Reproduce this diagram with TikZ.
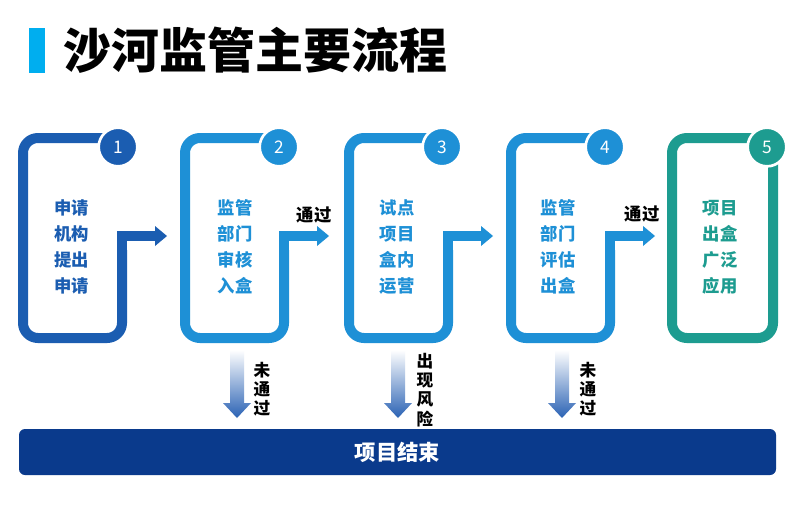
\documentclass[tikz,border=0pt]{standalone}
\usepackage{fontspec}
\setmainfont{Noto Sans CJK SC}
\definecolor{cone}{HTML}{1B5DB1}
\definecolor{cmid}{HTML}{1E90D6}
\definecolor{cfive}{HTML}{1D9C90}
\definecolor{cbar}{HTML}{0A3A8C}
\definecolor{ctitle}{HTML}{00AEEF}
\definecolor{carrow}{HTML}{2A62B4}
\begin{document}
\begin{tikzpicture}[x=0.75pt,y=-0.75pt,
  boxline/.style={line width=7.5pt, rounded corners=11.25pt},
  stemline/.style={line width=7.5pt},
  numcircle/.style={circle, draw=white, line width=2pt, minimum size=29pt, inner sep=0pt, text=white, font=\fontsize{13}{13}\selectfont},
  boxtext/.style={align=center, font=\bfseries\fontsize{13}{19.5}\selectfont},
  passlbl/.style={font=\bfseries\fontsize{13}{13}\selectfont, text=black},
  vlbl/.style={align=center, text=black, font=\bfseries\fontsize{12.5}{14.4}\selectfont},
  downarrow/.style={top color=white, bottom color=carrow}
]
\useasboundingbox (0,0) rectangle (800,521);
\fill[white] (0,0) rectangle (800,521);

% title
\fill[ctitle] (29,28) rectangle (45,73);
\node[anchor=west, font=\bfseries\fontsize{36}{36}\selectfont, inner sep=0pt] (title) at (63,50) {沙河监管主要流程};

% box 1
\begin{scope}[shift={(18,0)}]
  \draw[boxline, cone] (95,138) -- (5,138) -- (5,338) -- (104,338) -- (104,250);
  \draw[stemline, cone] (104,256) -- (104,236) -- (139,236);
  \fill[cone] (137,226) -- (149,236) -- (137,246) -- cycle;
  \node[numcircle, fill=cone] (n1) at (100,147) {1};
  \node[boxtext, text=cone] (t1) at (54,247) {申请\\机构\\提出\\申请};
\end{scope}

% box 2
\begin{scope}[shift={(180,0)}]
  \draw[boxline, cmid] (95,138) -- (5,138) -- (5,338) -- (104,338) -- (104,250);
  \draw[stemline, cmid] (104,256) -- (104,236) -- (139,236);
  \fill[cmid] (137,226) -- (149,236) -- (137,246) -- cycle;
  \node[numcircle, fill=cmid] (n2) at (99,147) {2};
  \node[boxtext, text=cmid] (t2) at (55,247) {监管\\部门\\审核\\入盒};
\end{scope}
\node[passlbl] (p2) at (314,215) {通过};

% box 3
\begin{scope}[shift={(344,0)}]
  \draw[boxline, cmid] (95,138) -- (5,138) -- (5,338) -- (104,338) -- (104,250);
  \draw[stemline, cmid] (104,256) -- (104,236) -- (139,236);
  \fill[cmid] (137,226) -- (149,236) -- (137,246) -- cycle;
  \node[numcircle, fill=cmid] (n3) at (98,147) {3};
  \node[boxtext, text=cmid] (t3) at (53,247) {试点\\项目\\盒内\\运营};
\end{scope}

% box 4
\begin{scope}[shift={(506,0)}]
  \draw[boxline, cmid] (95,138) -- (5,138) -- (5,338) -- (104,338) -- (104,250);
  \draw[stemline, cmid] (104,256) -- (104,236) -- (139,236);
  \fill[cmid] (137,226) -- (149,236) -- (137,246) -- cycle;
  \node[numcircle, fill=cmid] (n4) at (99,147) {4};
  \node[boxtext, text=cmid] (t4) at (52,247) {监管\\部门\\评估\\出盒};
\end{scope}
\node[passlbl] (p4) at (642,214) {通过};

% box 5
\draw[boxline, cfive] (762,138) -- (672,138) -- (672,338) -- (773,338) -- (773,152);
\node[numcircle, fill=cfive] (n5) at (767,147) {5};
\node[boxtext, text=cfive] (t5) at (720,247) {项目\\出盒\\广泛\\应用};

% end bar
\node[fill=cbar, rounded corners=4.5pt, minimum width=567.75pt, minimum height=34.5pt, inner sep=0pt, text=white, font=\bfseries\fontsize{16}{16}\selectfont] (endbar) at (397.5,452) {项目结束};

% down arrows
\shade[downarrow] (230,350) -- (244,350) -- (244,403) -- (251,403) -- (237,418) -- (223,403) -- (230,403) -- cycle;
\shade[downarrow] (391,350) -- (405,350) -- (405,403) -- (412,403) -- (398,418) -- (384,403) -- (391,403) -- cycle;
\shade[downarrow] (555,350) -- (569,350) -- (569,403) -- (576,403) -- (562,418) -- (548,403) -- (555,403) -- cycle;
\node[vlbl] (f2) at (262,389) {未\\通\\过};
\node[vlbl] (f3) at (425,390) {出\\现\\风\\险};
\node[vlbl] (f4) at (588,389) {未\\通\\过};
\end{tikzpicture}
\end{document}
